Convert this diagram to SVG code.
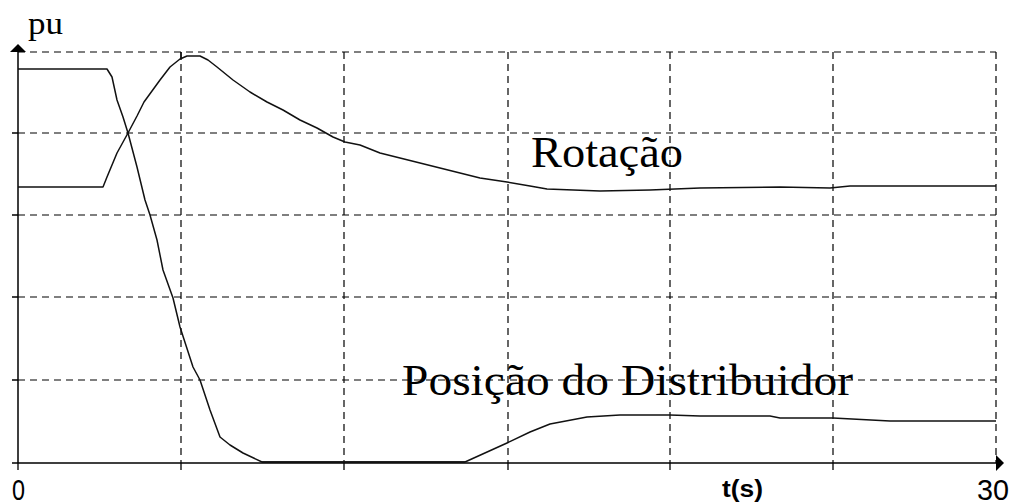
<svg xmlns="http://www.w3.org/2000/svg" width="1013" height="504" viewBox="0 0 1013 504">
<style>
.grid{stroke:#000;stroke-width:1.2;stroke-dasharray:7 5;fill:none}
.axis{stroke:#000;stroke-width:1.5;fill:none}
.tick{stroke:#000;stroke-width:1.3;fill:none}
.curve{stroke:#111;stroke-width:1.5;fill:none;stroke-linejoin:round}
.lbl{font-family:"Liberation Serif",serif;font-size:45px;fill:#000}
.num{font-family:"Liberation Sans",sans-serif;font-size:30px;fill:#000}
</style>
<rect width="1013" height="504" fill="#fff"/>
<g id="grid">
<path class="grid" d="M18 52H996M18 133H996M18 215H996M18 297H996M18 380H996"/>
<path class="grid" d="M181 52V463M344 52V463M508 52V463M670 52V463M833 52V463M996 52V463"/>
</g>
<g id="axes">
<path class="axis" d="M18 52V463M12 463H996"/>
<path d="M18 44L10 52H26Z" fill="#000"/>
<path d="M1004 463L996 455V471Z" fill="#000"/>
<path class="tick" d="M12 133H18M12 215H18M12 297H18M12 380H18M18 463V470M181 463V470M344 463V470M508 463V470M670 463V470M833 463V470M181 52V60"/>
</g>
<g id="connectors">
<path id="rotacao" class="curve" d="M18 187L103 187L107 177L117 153L128 133L137 116L144 102L152 91L160 80L170 67L180 59L187 56L200 56L208 60L217 67L233 80L250 92L267 102L283 110L300 120L317 128L333 137L345 142L360 145L380 153L400 158L420 163L440 168L460 173L480 178L507 182L530 186L547 189L600 191L650 190L700 188L780 187L830 188L850 186L996 186"/>
<path id="distribuidor" class="curve" d="M18 69L107 69L112 77L117 100L123 117L128 133L137 167L145 200L150 215L157 240L163 270L173 298L180 327L193 367L200 380L210 410L220 437L230 445L243 453L262 462L465 462L507 443L530 432L550 424L587 417L620 415L670 415L700 416L770 416L780 418L833 418L890 421L996 421"/>
<path class="curve" d="M262 462H465" stroke-width="3"/>
</g>
<g id="labels">
<text x="28" y="34" font-family="Liberation Serif,serif" font-size="31" textLength="35" lengthAdjust="spacingAndGlyphs">pu</text>
<text class="lbl" x="531" y="167" textLength="152" lengthAdjust="spacingAndGlyphs">Rotação</text>
<text class="lbl" x="402" y="395" textLength="451" lengthAdjust="spacingAndGlyphs">Posição do Distribuidor</text>
<text class="num" x="12" y="500" textLength="13" lengthAdjust="spacingAndGlyphs">0</text>
<text class="num" x="977" y="500" textLength="32" lengthAdjust="spacingAndGlyphs">30</text>
<text x="722" y="497" font-family="Liberation Sans,sans-serif" font-size="23" font-weight="bold" textLength="41" lengthAdjust="spacingAndGlyphs">t(s)</text>
</g>
</svg>
